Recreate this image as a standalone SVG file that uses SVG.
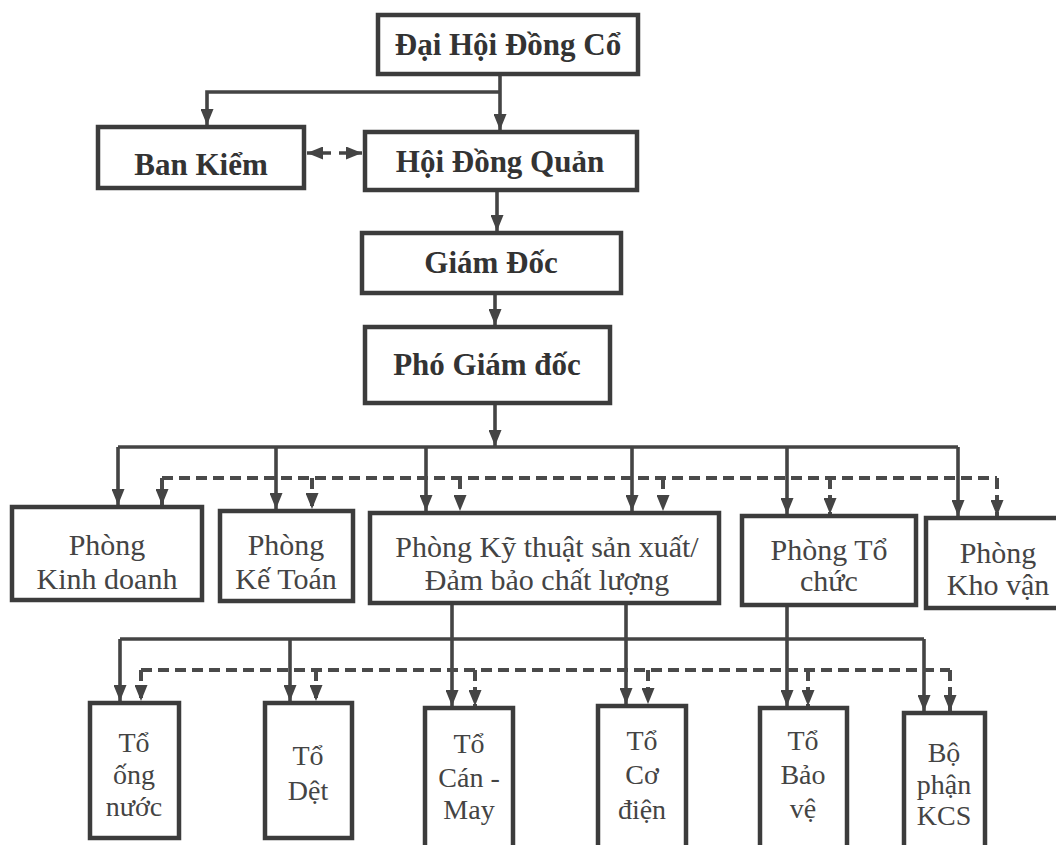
<svg xmlns="http://www.w3.org/2000/svg" width="1056" height="845" viewBox="0 0 1056 845">
<style>
.box{fill:#fff;stroke:#3c3c3c;stroke-width:4.5}
.ln{fill:none;stroke:#444;stroke-width:3.6}
.dl{fill:none;stroke:#4a4a4a;stroke-width:4;stroke-dasharray:11,6}
.b{font-family:"Liberation Serif","Times New Roman",serif;font-weight:bold;font-size:31px;fill:#333;text-anchor:middle}
.r{font-family:"Liberation Serif","Times New Roman",serif;font-size:30px;fill:#444;text-anchor:middle}
.s{font-family:"Liberation Serif","Times New Roman",serif;font-size:28px;fill:#444;text-anchor:middle}
</style>
<defs>
<marker id="ah" viewBox="0 0 16 13" refX="16" refY="6.5" markerWidth="16" markerHeight="13" markerUnits="userSpaceOnUse" orient="auto-start-reverse">
<path d="M0,0 L16,6.5 L0,13 z" fill="#444"/>
</marker>
</defs>
<rect width="1056" height="845" fill="#fff"/>

<g id="connectors">
<path class="ln" d="M500,74 V130" marker-end="url(#ah)"/>
<path class="ln" d="M500,92 H207 V125" marker-end="url(#ah)"/>
<path class="ln" d="M307,153 H362" stroke-dasharray="8,8" marker-start="url(#ah)" marker-end="url(#ah)"/>
<path class="ln" d="M497,190 V231" marker-end="url(#ah)"/>
<path class="ln" d="M495,293 V325" marker-end="url(#ah)"/>
<path class="ln" d="M495,403 V446" marker-end="url(#ah)"/>

<path class="ln" d="M118,447 H958"/>
<path class="ln" d="M118,447 V505" marker-end="url(#ah)"/>
<path class="ln" d="M276,447 V509" marker-end="url(#ah)"/>
<path class="ln" d="M426,447 V511" marker-end="url(#ah)"/>
<path class="ln" d="M632,447 V511" marker-end="url(#ah)"/>
<path class="ln" d="M787,447 V514" marker-end="url(#ah)"/>
<path class="ln" d="M958,447 V516" marker-end="url(#ah)"/>

<path class="dl" d="M162,478 H997"/>
<path class="dl" d="M162,478 V505" marker-end="url(#ah)"/>
<path class="dl" d="M312,478 V509" marker-end="url(#ah)"/>
<path class="dl" d="M460,478 V511" marker-end="url(#ah)"/>
<path class="dl" d="M663,478 V511" marker-end="url(#ah)"/>
<path class="dl" d="M830,478 V514" marker-end="url(#ah)"/>
<path class="dl" d="M997,478 V516" marker-end="url(#ah)"/>

<path class="ln" d="M120,639 H924"/>
<path class="ln" d="M120,639 V701" marker-end="url(#ah)"/>
<path class="ln" d="M290,639 V701" marker-end="url(#ah)"/>
<path class="ln" d="M924,639 V711" marker-end="url(#ah)"/>
<path class="ln" d="M452,603 V706" marker-end="url(#ah)"/>
<path class="ln" d="M626,603 V704" marker-end="url(#ah)"/>
<path class="ln" d="M787,605 V706" marker-end="url(#ah)"/>

<path class="dl" d="M141,670 H950"/>
<path class="dl" d="M141,670 V701" marker-end="url(#ah)"/>
<path class="dl" d="M316,670 V701" marker-end="url(#ah)"/>
<path class="dl" d="M475,670 V706" marker-end="url(#ah)"/>
<path class="dl" d="M648,670 V704" marker-end="url(#ah)"/>
<path class="dl" d="M808,670 V706" marker-end="url(#ah)"/>
<path class="dl" d="M950,670 V711" marker-end="url(#ah)"/>
</g>

<g id="dai-hoi-dong-co"><rect class="box" x="378" y="15" width="260" height="59"/><text class="b" x="508" y="55">Đại Hội Đồng Cổ</text></g>
<g id="ban-kiem"><rect class="box" x="98" y="127" width="206" height="61"/><text class="b" x="201" y="175">Ban Kiểm</text></g>
<g id="hoi-dong-quan"><rect class="box" x="365" y="132" width="272" height="58"/><text class="b" x="500" y="172">Hội Đồng Quản</text></g>
<g id="giam-doc"><rect class="box" x="362" y="233" width="259" height="60"/><text class="b" x="491" y="273">Giám Đốc</text></g>
<g id="pho-giam-doc"><rect class="box" x="365" y="327" width="245" height="76"/><text class="b" x="487" y="375">Phó Giám đốc</text></g>

<g id="phong-kinh-doanh"><rect class="box" x="12" y="507" width="190" height="93"/><text class="r" x="107" y="555">Phòng</text><text class="r" x="107" y="589">Kinh doanh</text></g>
<g id="phong-ke-toan"><rect class="box" x="220" y="511" width="133" height="90"/><text class="r" x="286" y="555">Phòng</text><text class="r" x="286" y="589">Kế Toán</text></g>
<g id="phong-ky-thuat"><rect class="box" x="370" y="513" width="349" height="90"/><text class="r" x="547" y="557">Phòng Kỹ thuật sản xuất/</text><text class="r" x="547" y="590">Đảm bảo chất lượng</text></g>
<g id="phong-to-chuc"><rect class="box" x="742" y="516" width="174" height="89"/><text class="r" x="829" y="560">Phòng Tổ</text><text class="r" x="829" y="591">chức</text></g>
<g id="phong-kho-van"><rect class="box" x="926" y="518" width="150" height="90"/><text class="r" x="998" y="563">Phòng</text><text class="r" x="998" y="595">Kho vận</text></g>

<g id="to-ong-nuoc"><rect class="box" x="90" y="703" width="89" height="135"/><text class="s" x="134" y="752">Tổ</text><text class="s" x="134" y="784">ống</text><text class="s" x="134" y="816">nước</text></g>
<g id="to-det"><rect class="box" x="265" y="703" width="87" height="135"/><text class="s" x="308" y="765">Tổ</text><text class="s" x="308" y="800">Dệt</text></g>
<g id="to-can-may"><rect class="box" x="425" y="708" width="88" height="160"/><text class="s" x="469" y="753">Tổ</text><text class="s" x="469" y="787">Cán -</text><text class="s" x="469" y="819">May</text></g>
<g id="to-co-dien"><rect class="box" x="598" y="706" width="88" height="160"/><text class="s" x="642" y="750">Tổ</text><text class="s" x="642" y="784">Cơ</text><text class="s" x="642" y="819">điện</text></g>
<g id="to-bao-ve"><rect class="box" x="760" y="708" width="87" height="160"/><text class="s" x="803" y="750">Tổ</text><text class="s" x="803" y="784">Bảo</text><text class="s" x="803" y="818">vệ</text></g>
<g id="bo-phan-kcs"><rect class="box" x="904" y="713" width="81" height="160"/><text class="s" x="944" y="762">Bộ</text><text class="s" x="944" y="794">phận</text><text class="s" x="944" y="825">KCS</text></g>
</svg>
